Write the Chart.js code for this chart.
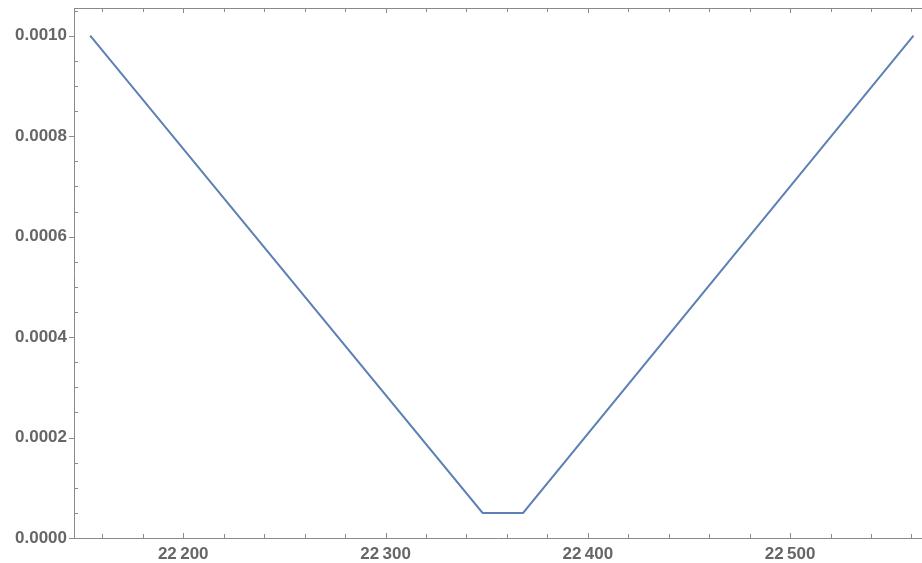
<!DOCTYPE html>
<html>
<head>
<meta charset="utf-8">
<script src="https://cdn.jsdelivr.net/npm/chart.js@4/dist/chart.umd.min.js"></script>
<style>
  html, body { margin: 0; padding: 0; background: #fff; }
  #wrap { width: 922px; height: 563px; }
</style>
</head>
<body>
<div id="wrap"><canvas id="myChart"></canvas></div>
<script>
// piecewise curve: falls to a flat floor, then rises again
var xValues = [22154, 22348, 22368, 22561];
var yValues = [0.001, 0.00005, 0.00005, 0.001];

var xMajor = [22200, 22300, 22400, 22500];
var yMajor = [0, 0.0002, 0.0004, 0.0006, 0.0008, 0.001];

var axisColor = "#8a8a8a";
var labelColor = "#666666";
var labelFont = { family: "Liberation Sans", weight: "bold", size: 17 };

var points = [];
for (var i = 0; i < xValues.length; i++) {
    points.push({ x: xValues[i], y: yValues[i] });
}

function isMajor(v, list) {
    for (var k = 0; k < list.length; k++) {
        if (Math.abs(v - list[k]) < 1e-9) return true;
    }
    return false;
}

// frame on top plus inward ticks, drawn from the scales
var framePlugin = {
    id: "frame",
    afterDraw: function (chart) {
        var ctx = chart.ctx;
        var a = chart.chartArea;
        var xs = chart.scales.x;
        var ys = chart.scales.y;
        ctx.save();
        ctx.strokeStyle = axisColor;
        ctx.lineWidth = 1;
        ctx.beginPath();
        ctx.moveTo(a.left, a.top + 0.5);
        ctx.lineTo(a.right, a.top + 0.5);
        // x ticks every 20, bottom and top
        for (var v = 22160; v <= 22560; v += 20) {
            var px = Math.round(xs.getPixelForValue(v)) + 0.5;
            var len = isMajor(v, xMajor) ? 5 : 4;
            ctx.moveTo(px, a.bottom);
            ctx.lineTo(px, a.bottom - len);
            ctx.moveTo(px, a.top);
            ctx.lineTo(px, a.top + len);
        }
        // y ticks every 0.00005
        for (var j = 0; j <= 21; j++) {
            var yv = j * 0.00005;
            var py = Math.round(ys.getPixelForValue(yv)) + 0.5;
            if (isMajor(yv, yMajor)) {
                ctx.moveTo(a.left - 5, py);
                ctx.lineTo(a.left, py);
            } else {
                ctx.moveTo(a.left, py);
                ctx.lineTo(a.left + 4, py);
            }
        }
        ctx.stroke();
        ctx.restore();
    }
};

var chart = new Chart(document.getElementById("myChart"), {
    type: "line",
    data: {
        datasets: [{
            data: points,
            borderColor: "#5e81b5",
            borderWidth: 2,
            pointRadius: 0,
            tension: 0,
            fill: false
        }]
    },
    options: {
        responsive: true,
        maintainAspectRatio: false,
        animation: false,
        layout: { padding: { top: 8, right: 0, left: 0, bottom: 0 } },
        plugins: {
            legend: { display: false },
            tooltip: { enabled: false }
        },
        scales: {
            x: {
                type: "linear",
                min: 22146,
                max: 22565.2,
                afterFit: function (scale) {
                    scale.height = 25;
                    scale.paddingLeft = 0;
                    scale.paddingRight = 0;
                },
                afterBuildTicks: function (scale) {
                    scale.ticks = xMajor.map(function (v) { return { value: v }; });
                },
                grid: { display: false, drawTicks: false },
                border: { display: true, color: axisColor, width: 1 },
                ticks: {
                    padding: 6,
                    color: labelColor,
                    font: labelFont,
                    maxRotation: 0,
                    callback: function (v) {
                        var s = String(v);
                        return s.slice(0, 2) + "\u2009" + s.slice(2);
                    }
                }
            },
            y: {
                type: "linear",
                min: 0,
                max: 0.0010552,
                afterFit: function (scale) {
                    scale.width = 74;
                    scale.paddingTop = 0;
                    scale.paddingBottom = 0;
                },
                afterBuildTicks: function (scale) {
                    scale.ticks = yMajor.map(function (v) { return { value: v }; });
                },
                grid: { display: false, drawTicks: false },
                border: { display: true, color: axisColor, width: 1 },
                ticks: {
                    padding: 7,
                    color: labelColor,
                    font: labelFont,
                    callback: function (v) { return v.toFixed(4); }
                }
            }
        }
    },
    plugins: [framePlugin]
});
</script>
</body>
</html>
